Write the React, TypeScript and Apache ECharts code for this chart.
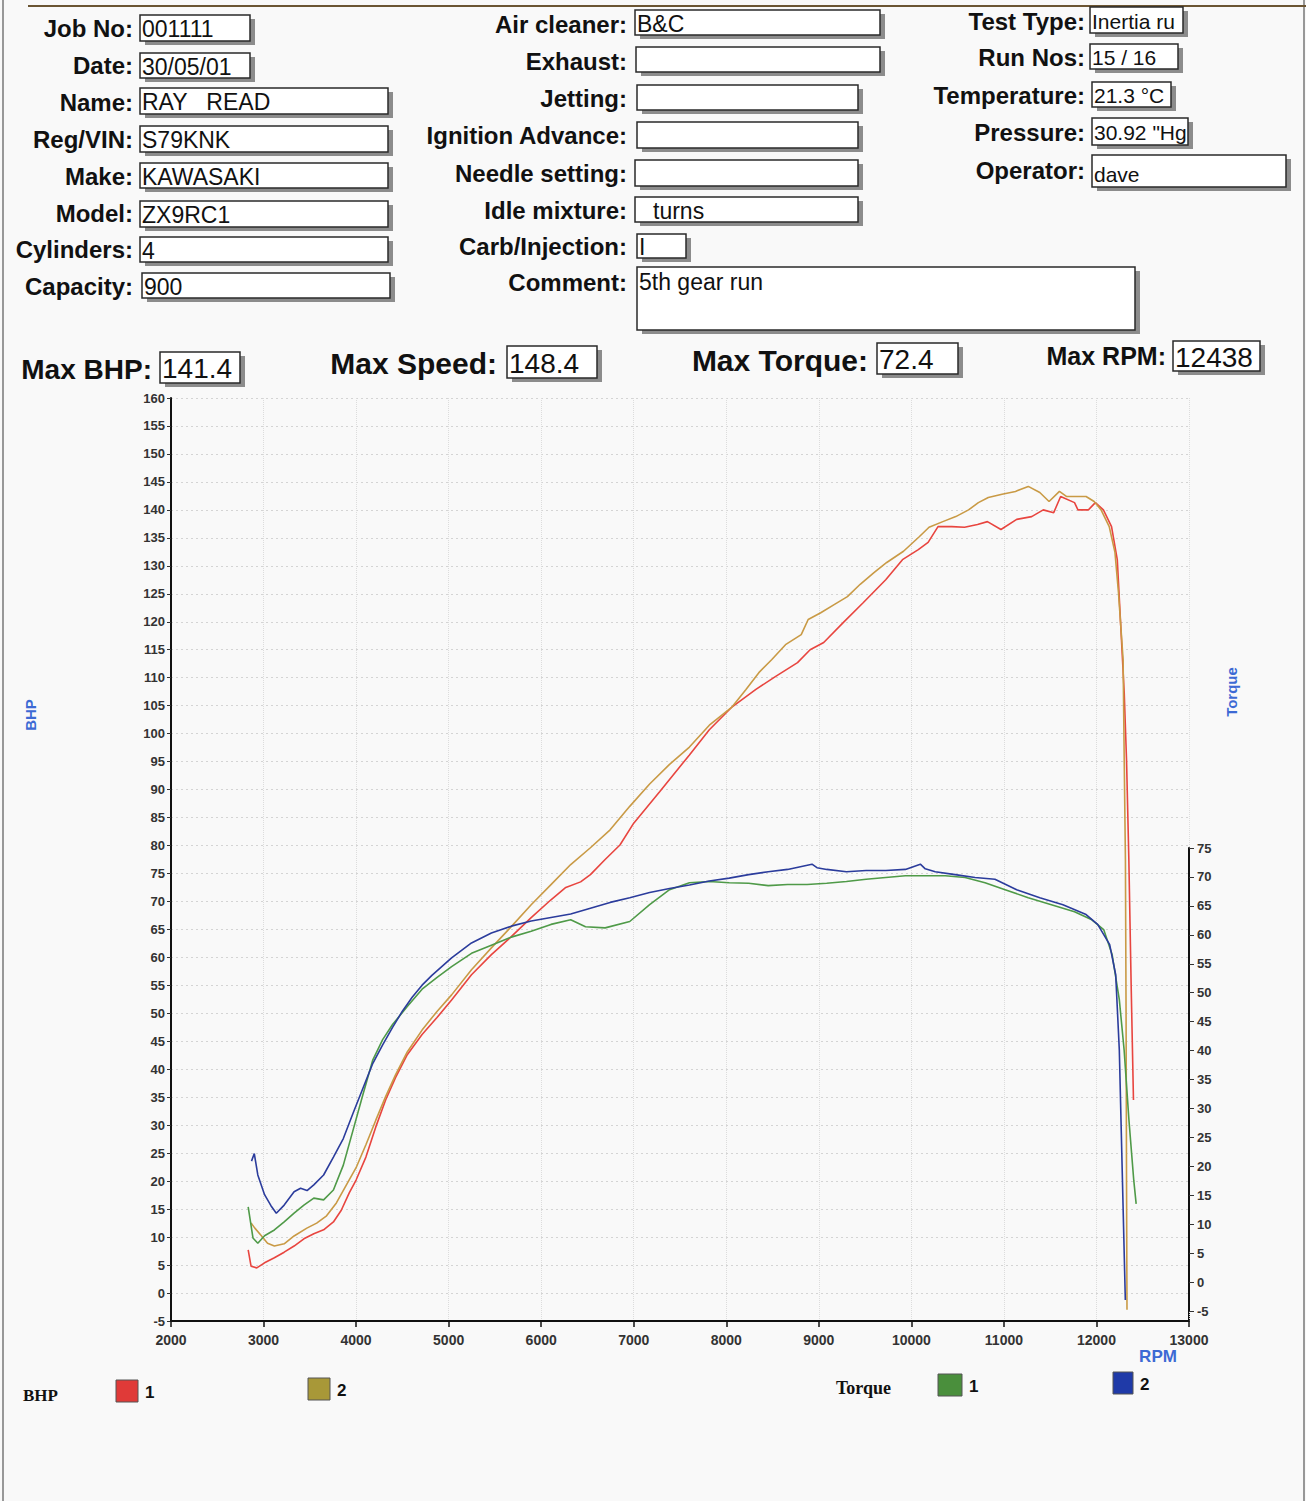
import React, { useEffect, useRef } from "react";
import * as echarts from "echarts";

// ---------- data (read from the scanned dyno sheet) ----------
const rpmTicks = [2000, 3000, 4000, 5000, 6000, 7000, 8000, 9000, 10000, 11000, 12000, 13000];

const bhp1Rpm = [2834, 2865, 2927, 3011, 3117, 3223, 3330, 3436, 3543, 3649, 3755, 3840, 3926, 4000, 4106, 4213, 4319, 4426, 4553, 4713, 4872, 5032, 5247, 5462, 5677, 5892, 6106, 6266, 6426, 6532, 6691, 6851, 7000, 7280, 7602, 7817, 8064, 8320, 8530, 8770, 8906, 9053, 9266, 9479, 9723, 9904, 10075, 10181, 10288, 10437, 10575, 10715, 10822, 10968, 11138, 11300, 11425, 11538, 11613, 11763, 11800, 11913, 11988, 12075, 12163, 12225, 12263, 12300, 12325, 12350, 12375, 12400];
const bhp1Val = [7.7, 4.8, 4.5, 5.4, 6.3, 7.3, 8.4, 9.7, 10.6, 11.3, 12.7, 14.8, 17.9, 20.2, 24.3, 29.7, 34.5, 38.5, 42.6, 46.2, 49.2, 52.4, 56.9, 60.5, 63.7, 67.1, 70.3, 72.5, 73.5, 74.8, 77.5, 80.1, 84.0, 89.6, 96.2, 100.7, 104.8, 107.9, 110.2, 112.7, 115.0, 116.3, 119.9, 123.4, 127.5, 131.1, 132.9, 134.2, 137.0, 137.0, 136.9, 137.4, 137.9, 136.5, 138.3, 138.8, 140.0, 139.5, 142.4, 141.3, 140.0, 140.0, 141.3, 140.0, 137.0, 131.1, 119.1, 107.3, 95.3, 77.5, 55.0, 34.5];

const bhp2Rpm = [2865, 2906, 2979, 3043, 3117, 3223, 3330, 3468, 3574, 3681, 3787, 3894, 4000, 4106, 4213, 4319, 4426, 4553, 4713, 4872, 5032, 5247, 5462, 5677, 5892, 6106, 6319, 6532, 6745, 6957, 7172, 7387, 7602, 7817, 8064, 8213, 8352, 8490, 8640, 8810, 8885, 9021, 9170, 9309, 9447, 9596, 9734, 9915, 10085, 10191, 10340, 10480, 10618, 10724, 10831, 10980, 11125, 11263, 11388, 11488, 11600, 11675, 11800, 11888, 11975, 12050, 12138, 12200, 12238, 12288, 12300, 12313, 12320, 12325, 12330];
const bhp2Val = [12.5, 11.6, 10.2, 8.9, 8.4, 8.8, 10.2, 11.6, 12.5, 13.8, 16.1, 19.3, 22.4, 26.5, 30.9, 35.1, 39.0, 43.1, 47.0, 50.3, 53.3, 57.8, 61.7, 65.5, 69.4, 73.0, 76.6, 79.6, 82.8, 87.0, 91.0, 94.5, 97.6, 101.5, 104.8, 107.9, 110.9, 113.2, 115.9, 117.7, 120.4, 121.6, 123.1, 124.5, 126.7, 128.8, 130.6, 132.6, 135.2, 136.9, 137.9, 138.8, 140.0, 141.3, 142.2, 142.8, 143.3, 144.2, 143.1, 141.5, 143.3, 142.4, 142.4, 142.4, 141.5, 140.0, 137.0, 132.4, 125.2, 113.2, 95.3, 77.5, 50.0, 20.0, -3.0];

const tq1Rpm = [2834, 2886, 2938, 3011, 3117, 3223, 3330, 3436, 3543, 3649, 3755, 3862, 3968, 4074, 4181, 4287, 4394, 4553, 4713, 4872, 5032, 5247, 5462, 5677, 5892, 6106, 6319, 6479, 6691, 6957, 7172, 7387, 7602, 7817, 8032, 8242, 8453, 8663, 8874, 9085, 9298, 9511, 9723, 9936, 10151, 10366, 10581, 10796, 11013, 11263, 11513, 11763, 11950, 12078, 12169, 12247, 12299, 12351, 12403, 12429];
const tq1Val = [13.0, 7.6, 6.7, 8.0, 9.0, 10.4, 11.9, 13.3, 14.5, 14.2, 15.9, 20.2, 26.3, 32.4, 38.4, 41.9, 44.5, 47.6, 50.6, 52.6, 54.5, 56.8, 58.2, 59.6, 60.6, 61.8, 62.6, 61.4, 61.2, 62.3, 65.2, 67.8, 69.0, 69.2, 69.0, 68.9, 68.5, 68.7, 68.7, 68.9, 69.2, 69.6, 69.9, 70.2, 70.2, 70.2, 69.9, 69.0, 67.8, 66.4, 65.2, 64.0, 62.6, 60.9, 56.6, 48.8, 40.1, 28.0, 17.6, 13.5];

const tq2Rpm = [2870, 2900, 2938, 3011, 3080, 3138, 3223, 3330, 3400, 3470, 3543, 3649, 3755, 3862, 3968, 4074, 4181, 4287, 4394, 4500, 4606, 4713, 4819, 5032, 5247, 5462, 5677, 5892, 6106, 6319, 6532, 6745, 6957, 7172, 7387, 7602, 7817, 8032, 8242, 8453, 8663, 8926, 8980, 9085, 9298, 9511, 9723, 9936, 10097, 10150, 10258, 10473, 10688, 10903, 11138, 11388, 11638, 11888, 12013, 12143, 12208, 12247, 12273, 12299, 12312];
const tq2Val = [20.9, 22.2, 18.5, 15.1, 13.2, 11.9, 13.3, 15.6, 16.2, 15.8, 16.8, 18.5, 21.6, 24.8, 29.2, 33.5, 37.8, 41.0, 44.0, 46.8, 49.2, 51.3, 53.0, 56.0, 58.6, 60.3, 61.5, 62.4, 63.0, 63.6, 64.6, 65.6, 66.4, 67.3, 68.0, 68.6, 69.3, 69.8, 70.4, 70.9, 71.3, 72.2, 71.6, 71.3, 70.9, 71.1, 71.1, 71.3, 72.2, 71.4, 70.9, 70.4, 69.9, 69.6, 67.8, 66.4, 65.2, 63.5, 61.8, 58.3, 53.1, 40.1, 22.8, 5.5, -3.1];

// header texts
const col1Labels = ["Job No:", "Date:", "Name:", "Reg/VIN:", "Make:", "Model:", "Cylinders:", "Capacity:"];
const col1Values = ["001111", "30/05/01", "RAY   READ", "S79KNK", "KAWASAKI", "ZX9RC1", "4", "900"];
const col2Labels = ["Air cleaner:", "Exhaust:", "Jetting:", "Ignition Advance:", "Needle setting:", "Idle mixture:", "Carb/Injection:", "Comment:"];
const col2Values = ["B&C", "", "", "", "", "turns", "I", "5th gear run"];
const col3Labels = ["Test Type:", "Run Nos:", "Temperature:", "Pressure:", "Operator:"];
const col3Values = ["Inertia run", "15 / 16", "21.3 °C", "30.92 \"Hg", "dave"];
const maxLabels = ["Max BHP:", "Max Speed:", "Max Torque:", "Max RPM:"];
const maxValues = ["141.4", "148.4", "72.4", "12438"];

const C_RED = "#e8453f";
const C_OLIVE = "#c99a45";
const C_GREEN = "#4f9a48";
const C_BLUE = "#2b3c9c";

const LABEL_FONT = 'bold 24px "Liberation Sans", Arial, sans-serif';
const VALUE_FONT = '23px "Liberation Sans", Arial, sans-serif';

function box(x1: number, y1: number, x2: number, y2: number) {
  return [
    { type: "rect", shape: { x: x1 + 5, y: y1 + 4, width: x2 - x1, height: y2 - y1 }, style: { fill: "#8c8c8c" } },
    { type: "rect", shape: { x: x1, y: y1, width: x2 - x1, height: y2 - y1 }, style: { fill: "#ffffff", stroke: "#2a2a2a", lineWidth: 1.5 } },
  ];
}

function field(label: string, lx: number, cy: number, b: number[], value: string, vx?: number, vy?: number, vfont?: string, lfont?: string, clipW?: number) {
  const els: any[] = [];
  els.push({ type: "text", x: lx, y: cy, style: { text: label, font: lfont || LABEL_FONT, fill: "#111", textAlign: "right", verticalAlign: "middle" } });
  els.push(...box(b[0], b[1], b[2], b[3]));
  if (value) {
    const st: any = { text: value, font: vfont || VALUE_FONT, fill: "#111", textAlign: "left", verticalAlign: "middle" };
    if (clipW) { st.width = clipW; st.overflow = "truncate"; st.ellipsis = ""; }
    els.push({ type: "text", x: vx !== undefined ? vx : b[0] + 2, y: vy !== undefined ? vy : (b[1] + b[3]) / 2 + 1, style: st });
  }
  return els;
}

export default function App() {
  const ref = useRef<HTMLDivElement>(null);
  useEffect(() => {
    if (!ref.current) return;
    const chart = echarts.init(ref.current, undefined, { renderer: "svg" });

    const col1Y = [28, 65, 102, 139, 176, 213, 249, 286];
    const col1Box = [[140, 15, 250, 41], [140, 53, 250, 78], [140, 88, 388, 114], [140, 126, 388, 152], [140, 163, 388, 188], [140, 201, 388, 227], [140, 237, 388, 262], [142, 273, 390, 298]];
    const col2Y = [24, 61, 98, 135, 173, 210, 246, 282];
    const col2Box = [[635, 10, 880, 35], [636, 47, 880, 72], [637, 85, 858, 110], [637, 122, 858, 148], [635, 160, 858, 186], [635, 197, 858, 222], [637, 234, 686, 258], [637, 267, 1135, 330]];
    const col3Y = [21, 57, 95, 132, 170];
    const col3Box = [[1090, 7, 1183, 33], [1090, 44, 1178, 69], [1092, 82, 1171, 107], [1092, 118, 1188, 145], [1092, 155, 1286, 187]];
    const maxRight = [152, 497, 868, 1166];
    const maxY = [369, 363, 360, 356];
    const maxFont = [28, 30, 30, 25];
    const maxBox = [[160, 352, 240, 383], [507, 346, 597, 378], [877, 343, 958, 374], [1173, 341, 1260, 371]];

    const graphics: any[] = [];
    // page frame
    graphics.push({ type: "line", shape: { x1: 3, y1: 0, x2: 3, y2: 1501 }, style: { stroke: "#777", lineWidth: 1.5 } });
    graphics.push({ type: "line", shape: { x1: 1304, y1: 0, x2: 1304, y2: 1501 }, style: { stroke: "#777", lineWidth: 1.5 } });
    graphics.push({ type: "line", shape: { x1: 28, y1: 6, x2: 1306, y2: 6 }, style: { stroke: "#6b5533", lineWidth: 2 } });

    col1Labels.forEach((l, i) => graphics.push(...field(l, 133, col1Y[i], col1Box[i], col1Values[i])));
    col2Labels.forEach((l, i) => {
      const b = col2Box[i];
      if (i === 5) graphics.push(...field(l, 627, col2Y[i], b, col2Values[i], 653));
      else if (i === 7) graphics.push(...field(l, 627, col2Y[i], b, col2Values[i], b[0] + 2, col2Y[i]));
      else graphics.push(...field(l, 627, col2Y[i], b, col2Values[i]));
    });
    const smallVal = '21px "Liberation Sans", Arial, sans-serif';
    col3Labels.forEach((l, i) => {
      const b = col3Box[i];
      if (i === 0) graphics.push(...field(l, 1085, col3Y[i], b, col3Values[i], undefined, undefined, smallVal, undefined, 90));
      else if (i === 4) graphics.push(...field(l, 1085, col3Y[i], b, col3Values[i], undefined, 174, smallVal));
      else graphics.push(...field(l, 1085, col3Y[i], b, col3Values[i], undefined, undefined, smallVal));
    });
    maxLabels.forEach((l, i) => {
      graphics.push(...field(l, maxRight[i], maxY[i], maxBox[i], maxValues[i], undefined, undefined,
        '28px "Liberation Sans", Arial, sans-serif', `bold ${maxFont[i]}px "Liberation Sans", Arial, sans-serif`));
    });

    // axis names
    graphics.push({ type: "text", x: 30, y: 715, rotation: Math.PI / 2, style: { text: "BHP", font: 'bold 15px "Liberation Sans", Arial, sans-serif', fill: "#3d6ad4", textAlign: "center", verticalAlign: "middle" } });
    graphics.push({ type: "text", x: 1231, y: 692, rotation: Math.PI / 2, style: { text: "Torque", font: 'bold 15px "Liberation Sans", Arial, sans-serif', fill: "#3d6ad4", textAlign: "center", verticalAlign: "middle" } });
    graphics.push({ type: "text", x: 1158, y: 1356, style: { text: "RPM", font: 'bold 17px "Liberation Sans", Arial, sans-serif', fill: "#3d6ad4", textAlign: "center", verticalAlign: "middle" } });
    // extend torque axis line to the rpm axis
    graphics.push({ type: "line", shape: { x1: 1189, y1: 1311, x2: 1189, y2: 1321 }, style: { stroke: "#111", lineWidth: 2 } });

    // bottom legend
    const serif = '"Liberation Serif", "Times New Roman", serif';
    graphics.push({ type: "text", x: 23, y: 1395, style: { text: "BHP", font: `bold 17px ${serif}`, fill: "#111", verticalAlign: "middle" } });
    graphics.push({ type: "text", x: 836, y: 1388, style: { text: "Torque", font: `bold 18px ${serif}`, fill: "#111", verticalAlign: "middle" } });
    const legendItems = [
      { x: 116, y: 1380, w: 22, h: 22, c: "#e03a38", t: "1" },
      { x: 308, y: 1378, w: 22, h: 22, c: "#a89838", t: "2" },
      { x: 938, y: 1374, w: 24, h: 22, c: "#4a8f3c", t: "1" },
      { x: 1113, y: 1372, w: 20, h: 22, c: "#1f3aa8", t: "2" },
    ];
    legendItems.forEach((it) => {
      graphics.push({ type: "rect", shape: { x: it.x, y: it.y, width: it.w, height: it.h }, style: { fill: it.c, stroke: "#555", lineWidth: 1 } });
      graphics.push({ type: "text", x: it.x + it.w + 7, y: it.y + it.h / 2 + 1, style: { text: it.t, font: 'bold 17px "Liberation Sans", Arial, sans-serif', fill: "#111", verticalAlign: "middle" } });
    });

    const pairs = (xs: number[], ys: number[]) => xs.map((x, i) => [x, ys[i]]);
    const lineSeries = (name: string, data: number[][], color: string, idx: number) => ({
      name, type: "line", xAxisIndex: idx, yAxisIndex: idx, data, showSymbol: false, symbol: "none",
      lineStyle: { color, width: 1.6 }, itemStyle: { color }, smooth: false, z: 3,
    });

    const axisLabelStyle = { color: "#333", fontSize: 13, fontWeight: "bold", fontFamily: '"Liberation Sans Narrow", "Liberation Sans", Arial, sans-serif' };

    chart.setOption({
      animation: false,
      backgroundColor: "#f9f9f9",
      grid: [
        { left: 171, top: 398, width: 1018, height: 923, containLabel: false },
        { left: 171, top: 848, width: 1018, height: 463, containLabel: false },
      ],
      xAxis: [
        {
          type: "value", gridIndex: 0, min: rpmTicks[0], max: rpmTicks[rpmTicks.length - 1], interval: 1000,
          axisLine: { show: true, onZero: false, lineStyle: { color: "#111", width: 2 } },
          axisTick: { show: true, length: 6, lineStyle: { color: "#111", width: 1.5 } },
          axisLabel: { ...axisLabelStyle, fontSize: 14, margin: 12, formatter: (v: number) => String(v) },
          splitLine: { show: true, lineStyle: { color: "#dcdcdc", type: "dotted", width: 1 } },
        },
        { type: "value", gridIndex: 1, min: rpmTicks[0], max: rpmTicks[rpmTicks.length - 1], show: false },
      ],
      yAxis: [
        {
          type: "value", gridIndex: 0, min: -5, max: 160, interval: 5, position: "left",
          axisLine: { show: true, onZero: false, lineStyle: { color: "#111", width: 2 } },
          axisTick: { show: true, length: 4, lineStyle: { color: "#333" } },
          axisLabel: { ...axisLabelStyle, margin: 6 },
          splitLine: { show: true, lineStyle: { color: "#d4d4d4", type: [2, 3], width: 1 } },
        },
        {
          type: "value", gridIndex: 1, min: -5, max: 75, interval: 5, position: "right",
          axisLine: { show: true, onZero: false, lineStyle: { color: "#111", width: 2 } },
          axisTick: { show: true, length: 5, lineStyle: { color: "#333" } },
          axisLabel: { ...axisLabelStyle, margin: 8 },
          splitLine: { show: false },
        },
      ],
      graphic: { elements: graphics },
      series: [
        lineSeries("BHP 1", pairs(bhp1Rpm, bhp1Val), C_RED, 0),
        lineSeries("BHP 2", pairs(bhp2Rpm, bhp2Val), C_OLIVE, 0),
        lineSeries("Torque 1", pairs(tq1Rpm, tq1Val), C_GREEN, 1),
        lineSeries("Torque 2", pairs(tq2Rpm, tq2Val), C_BLUE, 1),
      ],
    });
    return () => chart.dispose();
  }, []);

  return <div ref={ref} style={{ position: "absolute", left: 0, top: 0, width: 1306, height: 1501 }} />;
}
